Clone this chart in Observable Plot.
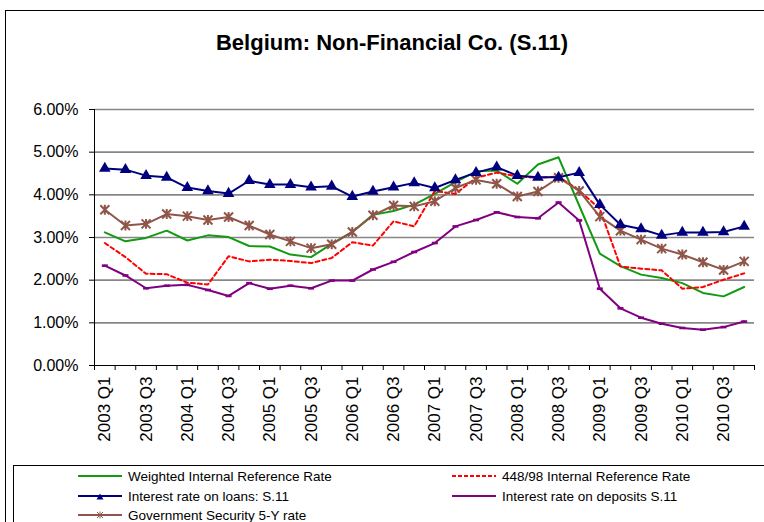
<!DOCTYPE html>
<html><head><meta charset="utf-8">
<script src="https://cdn.jsdelivr.net/npm/d3@7"></script>
<script src="https://cdn.jsdelivr.net/npm/@observablehq/plot@0.6"></script>
<style>
body{margin:0;background:#fff;font-family:Arial,"Liberation Sans",sans-serif;}
#wrap{position:relative;width:764px;height:522px;overflow:hidden;background:#fff;}
#frame{position:absolute;left:5px;top:10px;width:800px;height:600px;border:1px solid #000;}
#title{position:absolute;left:0;width:784px;top:30px;text-align:center;font-weight:bold;font-size:22px;color:#000;}
#chart{position:absolute;left:0;top:90px;}
#legend{position:absolute;left:13px;top:465px;width:800px;height:100px;border:1px solid #000;background:#fff;}
.item{position:absolute;height:18px;display:flex;align-items:center;font-size:13.5px;color:#000;white-space:nowrap;}
.item svg{margin-right:6px;}
</style></head>
<body><div id="wrap">
<div id="frame"></div>
<div id="title">Belgium: Non-Financial Co. (S.11)</div>
<div id="chart"></div>
<div id="legend"></div>
</div>
<script>
const quarters = ["2003 Q1","2003 Q2","2003 Q3","2003 Q4","2004 Q1","2004 Q2","2004 Q3","2004 Q4",
"2005 Q1","2005 Q2","2005 Q3","2005 Q4","2006 Q1","2006 Q2","2006 Q3","2006 Q4",
"2007 Q1","2007 Q2","2007 Q3","2007 Q4","2008 Q1","2008 Q2","2008 Q3","2008 Q4",
"2009 Q1","2009 Q2","2009 Q3","2009 Q4","2010 Q1","2010 Q2","2010 Q3","2010 Q4"];
const tickLabels = ["2003 Q1","2003 Q3","2004 Q1","2004 Q3","2005 Q1","2005 Q3","2006 Q1","2006 Q3",
"2007 Q1","2007 Q3","2008 Q1","2008 Q3","2009 Q1","2009 Q3","2010 Q1","2010 Q3"];
const yTicks = [0,1,2,3,4,5,6];

const weighted = [3.12,2.91,2.99,3.16,2.93,3.05,3.01,2.80,2.79,2.60,2.54,2.85,3.13,3.53,3.62,3.77,4.02,4.30,4.55,4.57,4.26,4.71,4.88,3.75,2.62,2.33,2.13,2.05,1.93,1.70,1.62,1.84];
const ref44898 = [2.87,2.54,2.15,2.14,1.94,1.90,2.56,2.44,2.48,2.45,2.40,2.52,2.89,2.81,3.38,3.26,4.09,4.02,4.40,4.52,4.43,4.40,4.43,4.10,3.67,2.32,2.27,2.23,1.80,1.84,2.01,2.16];
const loans = [4.62,4.59,4.45,4.41,4.17,4.09,4.03,4.33,4.24,4.24,4.18,4.20,3.96,4.08,4.18,4.28,4.16,4.35,4.52,4.65,4.45,4.41,4.41,4.52,3.77,3.30,3.20,3.05,3.12,3.12,3.13,3.26];
const deposits = [2.34,2.11,1.81,1.87,1.89,1.77,1.63,1.93,1.80,1.87,1.81,1.99,1.99,2.25,2.43,2.66,2.87,3.26,3.41,3.59,3.48,3.45,3.82,3.40,1.80,1.34,1.12,0.98,0.88,0.84,0.90,1.03];
const govt5y = [3.65,3.28,3.32,3.55,3.50,3.41,3.48,3.28,3.07,2.91,2.75,2.84,3.13,3.52,3.75,3.73,3.85,4.16,4.35,4.26,3.96,4.08,4.40,4.09,3.49,3.16,2.95,2.74,2.60,2.42,2.24,2.44];

const C = {green:"#129a12", red:"#ff0000", navy:"#00007f", purple:"#800080", brown:"#8f5548"};

const rows = arr => arr.map((v,i)=>({i, q:quarters[i], v}));
const idx = new Map(quarters.map((q,i)=>[q,i]));

const dashSym = {draw(ctx,size){ const w=3, h=1.3; ctx.moveTo(-w,-h); ctx.lineTo(w,-h); ctx.lineTo(w,h); ctx.lineTo(-w,h); ctx.closePath(); }};
const starSym = {draw(ctx,size){ const r=4.5; ctx.moveTo(-r,-r); ctx.lineTo(r,r); ctx.moveTo(-r,r); ctx.lineTo(r,-r); ctx.moveTo(0,-r*1.1); ctx.lineTo(0,r*1.1); }};

const boundaries = d3.range(33).map(k=>k-0.5);

const chart = Plot.plot({
  width:764, height:372,
  marginLeft:94, marginRight:10, marginTop:19, marginBottom:97,
  style:{fontFamily:"Arial, 'Liberation Sans', sans-serif", background:"transparent"},
  x:{type:"linear", domain:[-0.5,31.5], axis:null},
  y:{domain:[0,6], axis:null},
  marks:[
    Plot.ruleY(yTicks.filter(d=>d>0), {stroke:"#878787", strokeWidth:1.6}),
    Plot.ruleY([0], {stroke:"#000", strokeWidth:1}),
    Plot.ruleX([-0.5], {y1:0, y2:6, stroke:"#000", strokeWidth:1}),
    Plot.axisY({ticks:yTicks, tickSize:5, tickPadding:11, label:null, fontSize:16, tickFormat:d=>d.toFixed(2)+"%", stroke:"#000", color:"#000"}),
    Plot.axisX({ticks:boundaries, tickSize:5, label:null, tickFormat:()=>"", stroke:"#000"}),
    Plot.axisX({ticks:tickLabels.map(t=>idx.get(t)), tickSize:0, tickPadding:11, tickRotate:-90, label:null, fontSize:17,
      tickFormat:i=>quarters[i], color:"#000"}),
    Plot.line(rows(weighted), {x:"i", y:"v", stroke:C.green, strokeWidth:2}),
    Plot.line(rows(ref44898), {x:"i", y:"v", stroke:C.red, strokeWidth:2, strokeDasharray:"4,3"}),
    Plot.line(rows(govt5y), {x:"i", y:"v", stroke:C.brown, strokeWidth:2}),
    Plot.dot(rows(govt5y), {x:"i", y:"v", symbol:starSym, r:4, stroke:C.brown, strokeWidth:2, fill:"none"}),
    Plot.line(rows(deposits), {x:"i", y:"v", stroke:C.purple, strokeWidth:2}),
    Plot.dot(rows(deposits), {x:"i", y:"v", symbol:dashSym, r:4, fill:C.purple, stroke:"none"}),
    Plot.line(rows(loans), {x:"i", y:"v", stroke:C.navy, strokeWidth:2}),
    Plot.dot(rows(loans), {x:"i", y:"v", symbol:"triangle", r:4.3, fill:C.navy, stroke:"none"})
  ]
});
document.getElementById("chart").appendChild(chart);

// legend
const legendItems = [
  {label:"Weighted Internal Reference Rate", color:C.green, dash:null, marker:null, x:64, y:1},
  {label:"448/98 Internal Reference Rate", color:C.red, dash:"4,2", marker:null, x:438, y:1},
  {label:"Interest rate on loans: S.11", color:C.navy, dash:null, marker:"tri", x:64, y:21},
  {label:"Interest rate on deposits S.11", color:C.purple, dash:null, marker:null, x:438, y:21},
  {label:"Government Security 5-Y rate", color:C.brown, dash:null, marker:"star", x:64, y:40}
];
const leg = document.getElementById("legend");
for (const it of legendItems) {
  const d = document.createElement("div");
  d.className = "item";
  d.style.left = it.x+"px"; d.style.top = it.y+"px";
  let m = "";
  if (it.marker==="tri") m = `<path d="M22,5.5 L25.5,11.5 L18.5,11.5 Z" fill="${it.color}"/>`;
  if (it.marker==="star") m = `<path d="M19,5 L25,11 M19,11 L25,5 M22,4.5 L22,11.5" stroke="${it.color}" stroke-width="1" fill="none"/>`;
  d.innerHTML = `<svg width="44" height="16"><line x1="0" x2="44" y1="8" y2="8" stroke="${it.color}" stroke-width="2" ${it.dash?`stroke-dasharray="${it.dash}"`:""}/>${m}</svg><span>${it.label}</span>`;
  leg.appendChild(d);
}
</script>
</body></html>
